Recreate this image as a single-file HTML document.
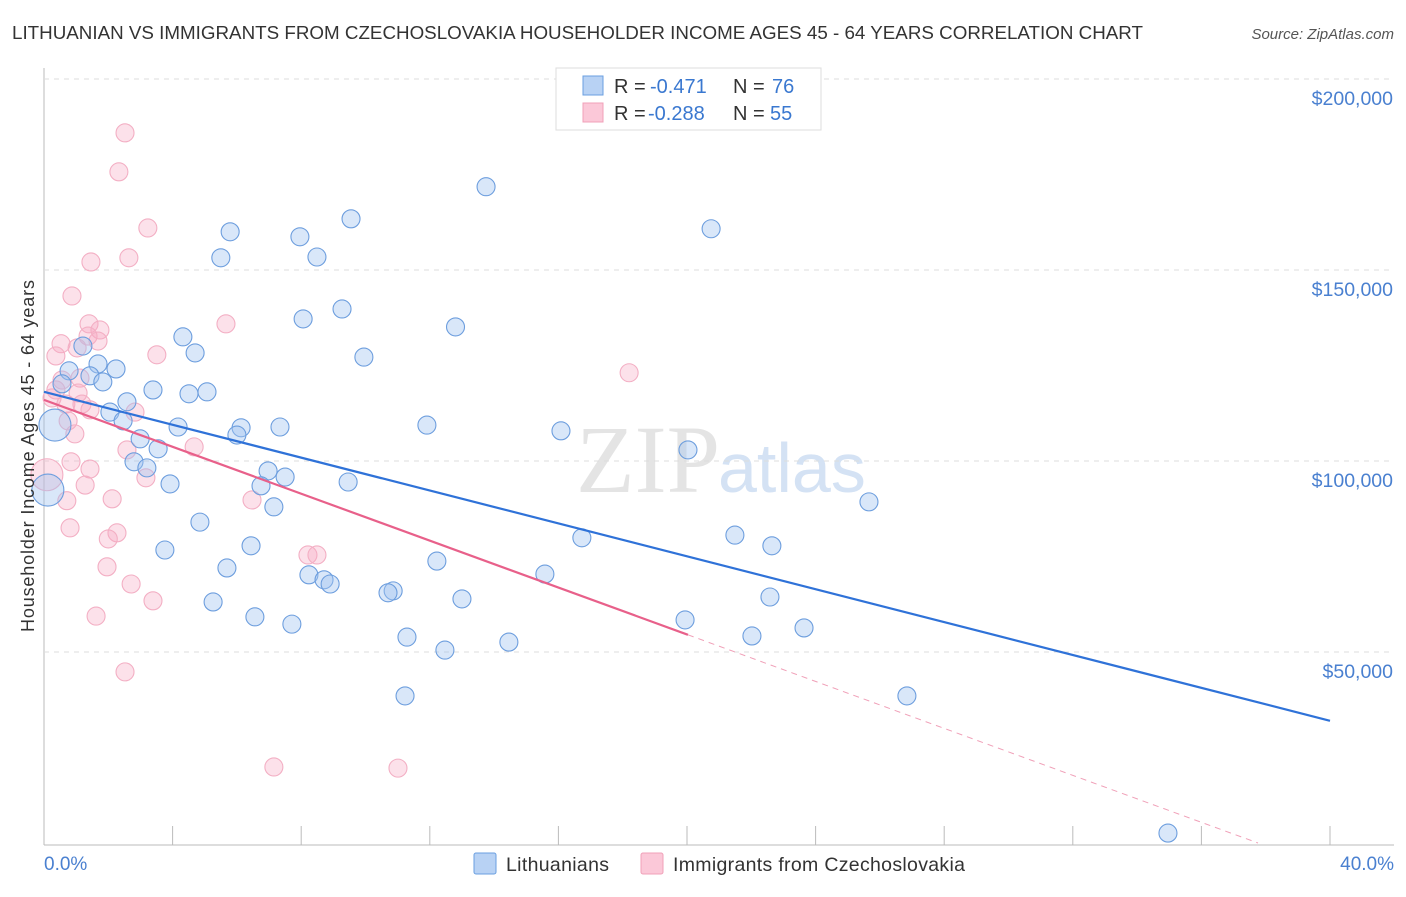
<!DOCTYPE html>
<html><head><meta charset="utf-8"><style>
body{margin:0;background:#fff;font-family:"Liberation Sans",sans-serif;}
</style></head><body>
<svg id="c" width="1406" height="892" xmlns="http://www.w3.org/2000/svg">
<text x="12" y="39" font-size="18" fill="#333" textLength="1131" lengthAdjust="spacingAndGlyphs">LITHUANIAN VS IMMIGRANTS FROM CZECHOSLOVAKIA HOUSEHOLDER INCOME AGES 45 - 64 YEARS CORRELATION CHART</text>
<text x="1394" y="39" font-size="15" fill="#555" font-style="italic" text-anchor="end">Source: ZipAtlas.com</text>
<text x="720" y="492" font-size="96" fill="#e4e4e4" font-family="Liberation Serif,serif" text-anchor="end">ZIP</text>
<text x="718" y="492" font-size="70" fill="#d4e2f4">atlas</text>
<g id="grid"></g><g id="pts"></g><g id="lines"></g>
<text transform="translate(34,456) rotate(-90)" font-size="18" fill="#333" text-anchor="middle" textLength="352">Householder Income Ages 45 - 64 years</text>
<text x="44" y="870" font-size="19" fill="#4a80d0">0.0%</text>
<text x="1394" y="870" font-size="19" fill="#4a80d0" text-anchor="end">40.0%</text>
<g>
<rect x="556" y="68" width="265" height="62" fill="#fff" stroke="#ddd"/>
<rect x="583" y="76" width="20" height="19" fill="#b8d2f4" stroke="#6a9fe0"/>
<rect x="583" y="103" width="20" height="19" fill="#fbc8d8" stroke="#f0a0b8"/>
<text x="614" y="93" font-size="20" fill="#333">R = <tspan x="650" fill="#3a78d0">-0.471</tspan></text>
<text x="733" y="93" font-size="20" fill="#333">N = <tspan x="772" fill="#3a78d0">76</tspan></text>
<text x="614" y="120" font-size="20" fill="#333">R = <tspan x="648" fill="#3a78d0">-0.288</tspan></text>
<text x="733" y="120" font-size="20" fill="#333">N = <tspan x="770" fill="#3a78d0">55</tspan></text>
</g>
<g>
<rect x="474" y="853" width="22" height="21" rx="2" fill="#b8d2f4" stroke="#6a9fe0"/>
<text x="506" y="871" font-size="19.5" fill="#333" textLength="103">Lithuanians</text>
<rect x="641" y="853" width="22" height="21" rx="2" fill="#fbc8d8" stroke="#f0a0b8"/>
<text x="673" y="871" font-size="19.5" fill="#333" textLength="292">Immigrants from Czechoslovakia</text>
</g>
</svg>
<script>
const yTicks=[50,100,150,200];
const yTickLabels=["$50,000","$100,000","$150,000","$200,000"];
const xTicks=[0,4,8,12,16,20,24,28,32,36,40];
const blueX=[13.75,20.75,9.55,5.79,7.96,5.5,8.49,9.27,8.06,12.8,4.32,4.7,1.21,9.95,1.68,2.24,0.78,1.43,1.83,0.56,3.39,4.51,5.07,2.58,2.05,2.46,4.17,6.13,7.34,11.91,16.08,6.0,2.99,0.34,3.55,2.8,3.2,20.03,6.97,7.5,6.75,3.92,9.46,7.15,25.66,4.85,0.12,6.44,3.76,16.73,21.49,22.64,12.22,5.69,8.24,8.71,8.9,15.58,10.86,10.7,13.0,5.26,22.58,6.56,7.71,19.94,23.64,22.02,11.29,14.46,12.47,11.23,26.84,34.96];
const blueY=[171.8,160.8,163.4,160,158.7,153.2,153.4,139.8,137.2,135.1,132.5,128.3,130.1,127.2,125.4,124.1,123.6,122.3,120.7,120.2,118.6,117.6,118.1,115.5,112.8,110.5,108.9,108.7,108.9,109.4,107.9,106.8,105.8,109.4,103.2,99.8,98.2,102.9,97.4,95.8,93.5,94,94.5,88,89.3,84,92.4,77.8,76.7,79.9,80.6,77.8,73.8,72,70.2,68.9,67.8,70.4,66,65.5,63.9,63.1,64.4,59.2,57.3,58.4,56.3,54.2,53.9,52.6,50.5,38.5,38.5,2.6];
const blueBig=[33,46];
const pinkX=[2.52,2.33,3.23,2.64,1.46,0.87,5.66,1.4,1.74,1.37,0.53,1.68,1.03,3.51,0.37,0.56,18.2,1.12,0.37,1.06,0.25,0.68,1.18,1.43,2.83,0.75,0.96,4.67,2.58,0.84,1.43,0.09,3.17,1.28,2.12,0.71,6.47,2.27,2.0,0.81,1.96,8.21,8.49,2.71,3.39,1.62,2.52,7.15,11.01];
const pinkY=[185.9,175.7,161,153.2,152.1,143.2,135.9,135.9,134.3,132.7,130.7,131.4,129.6,127.8,127.5,121.2,123.1,121.7,118.6,117.8,116.5,114.9,114.9,113.4,112.8,110.5,107.1,103.7,102.9,99.8,97.9,96.4,95.6,93.7,90.1,89.6,89.8,81.2,79.6,82.5,72.3,75.4,75.4,67.8,63.4,59.4,44.8,19.9,19.6];
const pinkBig=[31];
const blueLine=[[0,118.1],[40,32.0]];
const pinkLine=[[0,116],[20.03,54.5]];
const pinkDash=[[20.03,54.5],[37.76,0]];
const NS="http://www.w3.org/2000/svg";
const X=v=>44+v*32.15, Y=v=>843-v*191/50;
function mk(t,a,p){const e=document.createElementNS(NS,t);for(const k in a)e.setAttribute(k,a[k]);p.appendChild(e);return e;}
const g=document.getElementById('grid');
mk('line',{x1:44,y1:68,x2:44,y2:845,stroke:'#bbb'},g);
mk('line',{x1:44,y1:845,x2:1394,y2:845,stroke:'#bbb'},g);
yTicks.forEach((t,i)=>{
 const l=mk('line',{x1:44,y1:Y(t),x2:1394,y2:Y(t),stroke:'#ddd','stroke-dasharray':'5,5'},g);
 
 
 const tx=mk('text',{x:1393,y:Y(t)+26,'font-size':19.5,fill:'#4a80d0','text-anchor':'end'},g);
 tx.textContent=yTickLabels[i];
 
 
});
xTicks.forEach(t=>{
 const l=mk('line',{x1:X(t),y1:826,x2:X(t),y2:845,stroke:'#bbb'},g);
 
 
});
const p=document.getElementById('pts');
pinkX.forEach((x,i)=>{
 const c=mk('circle',{cx:X(x),cy:Y(pinkY[i]),r:pinkBig.includes(i)?16:9,fill:'rgba(245,170,195,0.35)',stroke:'#f3afc4','stroke-width':1.1},p);
 
 
});
blueX.forEach((x,i)=>{
 const c=mk('circle',{cx:X(x),cy:Y(blueY[i]),r:blueBig.includes(i)?16:9,fill:'rgba(160,196,240,0.4)',stroke:'#6d9ede','stroke-width':1.1},p);
 
 
});
const L=document.getElementById('lines');
const bl=mk('line',{x1:X(blueLine[0][0]),y1:Y(blueLine[0][1]),x2:X(blueLine[1][0]),y2:Y(blueLine[1][1]),stroke:'#2f72d8','stroke-width':2.2},L);


const pl=mk('line',{x1:X(pinkLine[0][0]),y1:Y(pinkLine[0][1]),x2:X(pinkLine[1][0]),y2:Y(pinkLine[1][1]),stroke:'#e8608a','stroke-width':2.2},L);


const pd=mk('line',{x1:X(pinkDash[0][0]),y1:Y(pinkDash[0][1]),x2:X(pinkDash[1][0]),y2:Y(pinkDash[1][1]),stroke:'#f0a0b8','stroke-width':1,'stroke-dasharray':'6,5'},L);


</script>
</body></html>
